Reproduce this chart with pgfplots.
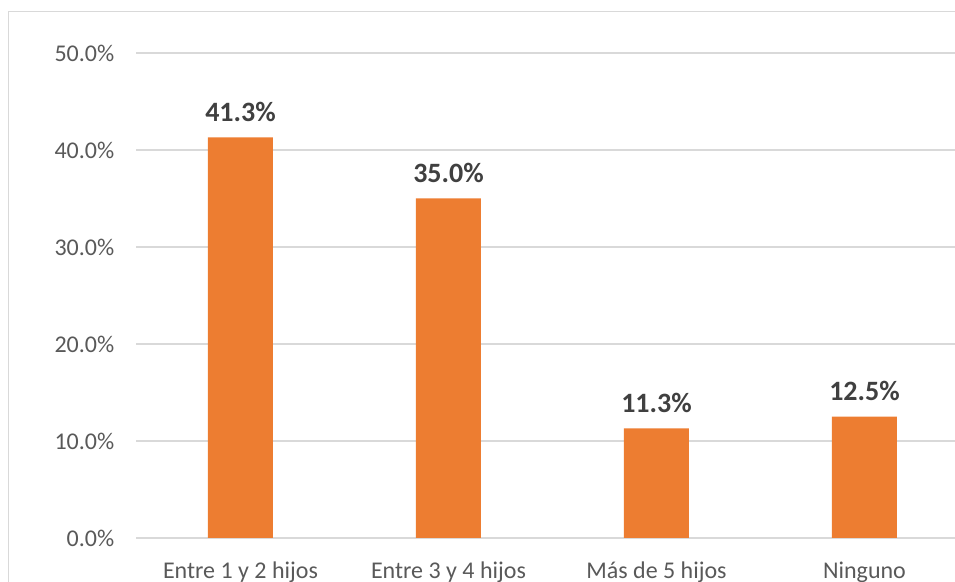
\documentclass[border=0pt]{standalone}
\usepackage{pgfplots}
\pgfplotsset{compat=1.18}
\usepackage{fontspec}
\setmainfont{Carlito}
\definecolor{barorange}{HTML}{ED7D31}
\definecolor{gridgray}{HTML}{D9D9D9}
\definecolor{ticktext}{HTML}{595959}
\definecolor{labeltext}{HTML}{404040}

\begin{document}
\begin{tikzpicture}
  % the reference is cropped on the right and at the bottom
  \useasboundingbox (-68.25pt,-22pt) rectangle (409.25pt,269pt);
  \clip (-68.25pt,-22pt) rectangle (409.25pt,269pt);
  \draw[gridgray, line width=0.6pt] (-64.1pt,-40pt) -- (-64.1pt,263.25pt) -- (430pt,263.25pt);
  \begin{axis}[
      at={(0pt,0pt)}, anchor=south west,
      scale only axis,
      width=416pt, height=242.5pt,
      xmin=-0.5, xmax=3.5,
      ymin=0, ymax=50,
      ytick distance=10,
      xtick=data,
      xticklabels={Entre 1 y 2 hijos, Entre 3 y 4 hijos, Más de 5 hijos, Ninguno},
      axis line style={draw=none},
      tick style={draw=none},
      ymajorgrids,
      grid style={gridgray, line width=0.6pt},
      /pgf/number format/assume math mode=true,
      yticklabel={\pgfmathprintnumber[fixed,zerofill,precision=1]{\tick}\%},
      yticklabel style={font=\fontsize{12}{14}\selectfont, text=ticktext, xshift=-7.6pt},
      xticklabel style={font=\fontsize{12}{14}\selectfont, text=ticktext, yshift=-4pt},
      ybar,
      bar width=32.5pt,
      clip=false,
      nodes near coords={\pgfmathprintnumber[fixed,zerofill,precision=1]{\pgfplotspointmeta}\%},
      nodes near coords style={font=\fontsize{14}{16}\selectfont\bfseries, text=labeltext, anchor=south, yshift=4.3pt},
    ]
    \addplot[fill=barorange, draw=none] coordinates {
      (0, 41.3)
      (1, 35.0)
      (2, 11.3)
      (3, 12.5)
    };
  \end{axis}
\end{tikzpicture}
\end{document}
